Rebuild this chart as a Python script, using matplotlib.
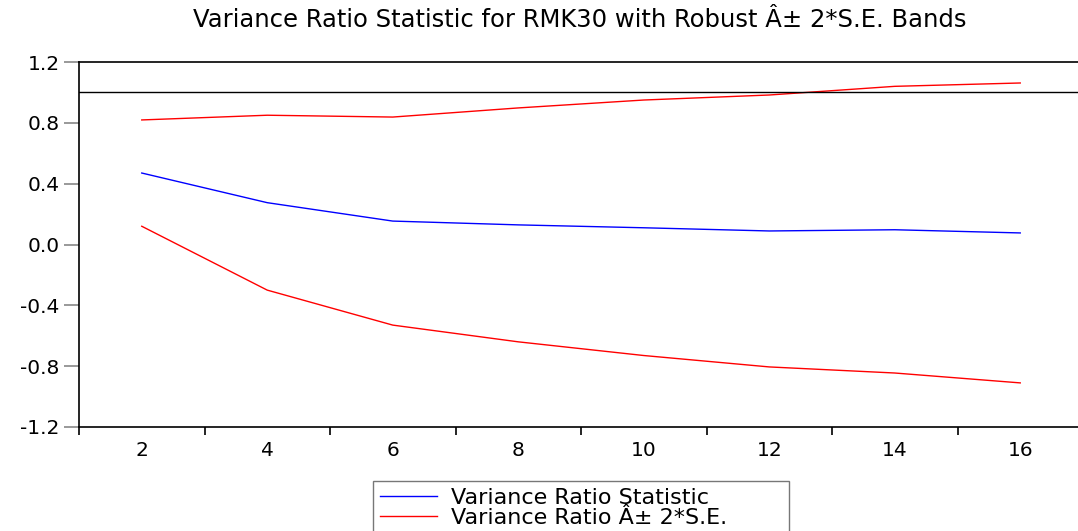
import matplotlib
matplotlib.use("Agg")
import matplotlib.pyplot as plt
import numpy as np

# lag periods and variance ratio results
periods = [2, 4, 6, 8, 10, 12, 14, 16]
vr_stat = [0.47, 0.275, 0.154, 0.129, 0.11, 0.089, 0.097, 0.076]
upper_band = [0.819, 0.85, 0.838, 0.898, 0.95, 0.983, 1.04, 1.062]
lower_band = [0.12, -0.30, -0.53, -0.64, -0.73, -0.805, -0.845, -0.91]

plt.rcParams['font.family'] = ['DejaVu Sans']

fig = plt.figure(figsize=(10.78, 5.31), dpi=100)
ax = fig.add_axes([79/1078, 1 - 427/531, 1004/1078, 365/531])

idx = np.arange(len(periods))
ax.plot(idx, vr_stat, color='blue', lw=1.0, label='Variance Ratio Statistic')
ax.plot(idx, upper_band, color='red', lw=1.0, label='Variance Ratio Â± 2*S.E.')
ax.plot(idx, lower_band, color='red', lw=1.0)
ax.axhline(1.0, color='black', lw=1.0)

ax.set_xlim(-0.5, len(periods) - 0.5)
ax.set_ylim(-1.2, 1.2)
ax.set_yticks([-1.2, -0.8, -0.4, 0.0, 0.4, 0.8, 1.2])
ax.set_yticklabels(['-1.2', '-0.8', '-0.4', '0.0', '0.4', '0.8', '1.2'])
ax.tick_params(axis='y', length=11, width=1.2, color='#888888', labelsize=14.5, pad=3)

# labels centred in each period slot, ticks on the slot boundaries
ax.set_xticks(idx)
ax.set_xticklabels([str(p) for p in periods])
ax.tick_params(axis='x', which='major', length=0, labelsize=14.5, pad=10)
ax.set_xticks(np.arange(len(periods) + 1) - 0.5, minor=True)
ax.tick_params(axis='x', which='minor', length=6, width=1.2, color='black', direction='out')

for s in ['left', 'bottom', 'top']:
    ax.spines[s].set_linewidth(1.2)
    ax.spines[s].set_color('black')
ax.spines['right'].set_visible(False)

fig.text(580/1078, 1 - 20/531, 'Variance Ratio Statistic for RMK30 with Robust Â± 2*S.E. Bands',
         ha='center', va='center', fontsize=17.5)

# legend box runs off the bottom edge of the figure
leg_x, leg_top, leg_w = 373/1078, 1 - 481/531, (789 - 373)/1078
leg = fig.legend(loc='upper left', bbox_to_anchor=(leg_x, leg_top - 0.2, leg_w, 0.2),
                 mode='expand', fontsize=16, frameon=True, fancybox=False,
                 handlelength=2.6, borderpad=0.3, labelspacing=0.0,
                 handletextpad=0.6, borderaxespad=0)
leg.get_frame().set_edgecolor('#555555')
leg.get_frame().set_linewidth(1.0)
leg.get_frame().set_height(100)

fig.savefig('out.png', dpi=100)
